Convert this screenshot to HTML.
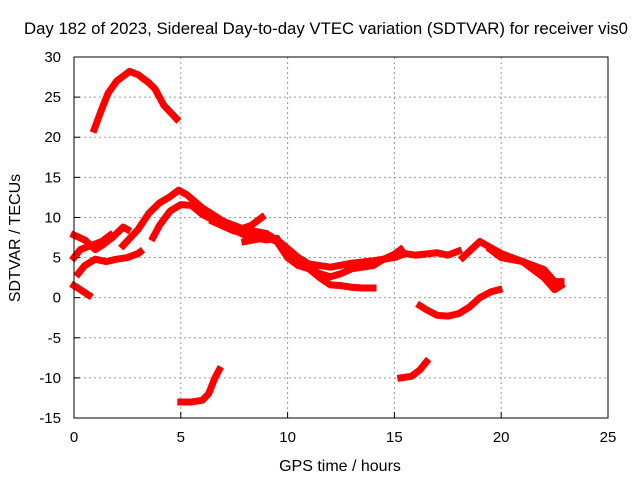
<!DOCTYPE html>
<html><head><meta charset="utf-8"><style>
body{margin:0;background:#fff;}
svg{display:block;font-family:"Liberation Sans",sans-serif;}
</style></head><body>
<svg id="chart" width="640" height="480" viewBox="0 0 640 480">
<text x="326" y="34" font-size="16.8" text-anchor="middle">Day 182 of 2023, Sidereal Day-to-day VTEC variation (SDTVAR) for receiver vis0</text>
<g id="grid"></g>
<g id="ticks"></g>
<g id="series"></g>
<rect x="74" y="57" width="534" height="361" fill="none" stroke="#000" stroke-width="1"/>
<text x="340" y="471" font-size="16" text-anchor="middle">GPS time / hours</text>
<text x="20" y="238" font-size="16" text-anchor="middle" transform="rotate(-90 20 238)">SDTVAR / TECUs</text>
</svg>
<script>
const xTicks=[0,5,10,15,20,25];
const yTicks=[-15,-10,-5,0,5,10,15,20,25,30];
const track1=[[0.95,21],[1.3,23.5],[1.6,25.5],[2,27],[2.6,28.2],[3,27.8],[3.5,26.8],[3.8,26],[4.2,24],[4.8,22.3]];
const track2=[[0,7.8],[0.5,7.2],[1,6],[1.3,6.5],[1.8,7.5],[2.3,8.8],[2.5,8.5]];
const track3=[[0,5],[0.3,6],[0.8,6.5],[1.3,7],[1.7,7.8]];
const track4=[[0.2,3],[0.5,4],[1,4.8],[1.5,4.5],[2,4.8],[2.5,5],[3,5.5],[3.1,5.7]];
const track5=[[0,1.5],[0.3,1],[0.7,0.3]];
const track6=[[2.3,6.5],[3,8.5],[3.5,10.5],[4,11.8],[4.5,12.6],[4.9,13.4],[5.3,12.8],[6,11.2],[7,9.5],[8,8.5],[9,8],[9.7,6.8],[10.5,5],[11,4.2],[12,3.8],[13,4.3],[14,4.6],[15,5],[15.5,5.5],[16,5.3],[17,5.6],[17.5,5.3],[18,5.8]];
const track7=[[3.7,7.5],[4,9],[4.5,10.8],[5,11.6],[5.5,11.5],[6,10.4],[7,9],[8,7.8],[9,7.2],[9.5,7.4],[10,5],[10.5,4],[11,3.6],[11.5,3],[12,2.6],[12.5,3],[13,3.6],[14,4],[14.5,4.8],[15,5.4],[15.3,6]];
const track8=[[6.5,9.5],[7.5,8.3],[8.3,9],[8.8,10]];
const track9=[[8,7],[9,7.5],[9.5,7],[10,5],[11,3.6],[11.5,2.5],[12,1.6],[12.5,1.5],[13,1.3],[13.5,1.2],[14,1.2]];
const track10=[[18.2,5],[19,7],[20,5.5],[21,4.5],[21.5,3.5],[22,2.5],[22.5,1],[22.8,1.5]];
const track11=[[19.5,6],[20,5],[21,4.5],[21.5,4],[22,3.5],[22.5,2],[22.8,2]];
const track12=[[16.2,-1],[16.5,-1.5],[17,-2.2],[17.5,-2.3],[18,-2],[18.5,-1.2],[19,0],[19.5,0.7],[19.9,1]];
const track13=[[5,-13],[5.5,-13],[6,-12.8],[6.3,-12],[6.6,-10],[6.8,-9]];
const track14=[[15.3,-10],[15.8,-9.8],[16.2,-9],[16.5,-8]];
const tracks=[track1,track2,track3,track4,track5,track6,track7,track8,track9,track10,track11,track12,track13,track14];
const NS="http://www.w3.org/2000/svg";
const X=v=>74+(v-0)*(534/25);
const Y=v=>418-(v+15)*(361/45);
const grid=document.getElementById('grid'),ticks=document.getElementById('ticks'),series=document.getElementById('series');
function mk(tag,attrs,parent){const e=document.createElementNS(NS,tag);for(const k in attrs)e.setAttribute(k,attrs[k]);parent.appendChild(e);return e;}
xTicks.forEach(t=>{
 if(t>0&&t<25){const g=mk('line',{x1:X(t),x2:X(t),y1:57,y2:418,stroke:'#999','stroke-dasharray':'2,3'},grid);
 
 }
 const tl=mk('line',{x1:X(t),x2:X(t),y1:418,y2:412,stroke:'#000'},ticks);
 
 
 const tx=mk('text',{x:X(t),y:442,'font-size':15,'text-anchor':'middle'},ticks);tx.textContent=t;
 
 
});
yTicks.forEach(t=>{
 if(t>-15&&t<30){const g=mk('line',{x1:74,x2:608,y1:Y(t),y2:Y(t),stroke:'#999','stroke-dasharray':'2,3'},grid);
 
 }
 const tl=mk('line',{x1:74,x2:80,y1:Y(t),y2:Y(t),stroke:'#000'},ticks);
 
 
 const tx=mk('text',{x:61,y:Y(t)+5,'font-size':15,'text-anchor':'end'},ticks);tx.textContent=t;
 
 
});
tracks.forEach((tr,i)=>{
 const p=mk('polyline',{points:tr.map(d=>X(d[0])+','+Y(d[1])).join(' '),fill:'none',stroke:'#f00','stroke-width':7,'stroke-linejoin':'round','stroke-linecap':'square'},series);
 
 
});
</script>
</body></html>
